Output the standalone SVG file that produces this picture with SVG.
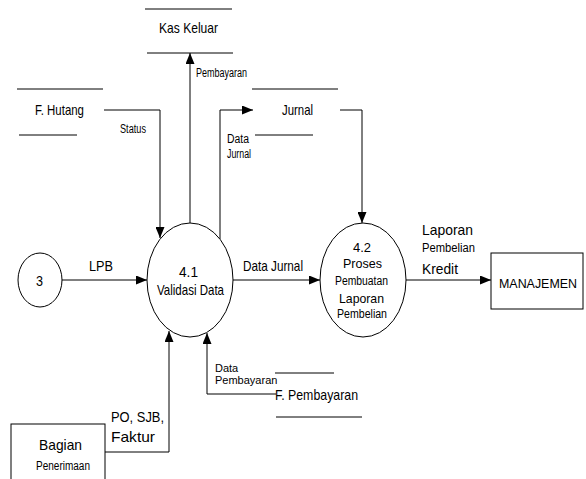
<svg xmlns="http://www.w3.org/2000/svg" width="586" height="479" viewBox="0 0 586 479">
<style>
.bg{fill:#fff}
.sh{fill:#fff;stroke:#000;stroke-width:1}
.st{fill:none;stroke:#000;stroke-width:1}
.cn{fill:none;stroke:#000;stroke-width:1;marker-end:url(#ah)}
text{font-family:"Liberation Sans",Arial,sans-serif;fill:#000}
.b{font-size:15px}
.m{font-size:13px}
.s{font-size:12px}
.r{font-size:11px}
</style>
<defs>
<marker id="ah" markerUnits="userSpaceOnUse" markerWidth="11" markerHeight="9" refX="11" refY="4.5" orient="auto">
<path d="M0,0 L11,4.5 L0,9 z" fill="#000"/>
</marker>
</defs>
<rect class="bg" x="0" y="0" width="586" height="479"/>
<g id="connectors">
<path class="cn" d="M62,280 H147"/>
<path class="cn" d="M104,110 H160 V238"/>
<path class="cn" d="M190,223 V53"/>
<path class="cn" d="M220,239 V110 H253"/>
<path class="cn" d="M340,110 H362 V223"/>
<path class="cn" d="M233,280 H320"/>
<path class="cn" d="M406,280 H491"/>
<path class="cn" d="M105,452 H169 V331"/>
<path class="cn" d="M276,394 H207 V333"/>
<text class="s" x="196" y="77" textLength="51" lengthAdjust="spacingAndGlyphs">Pembayaran</text>
<text class="s" x="120" y="133" textLength="26" lengthAdjust="spacingAndGlyphs">Status</text>
<text class="s" x="227" y="143" textLength="22" lengthAdjust="spacingAndGlyphs">Data</text>
<text class="s" x="227" y="158" textLength="24" lengthAdjust="spacingAndGlyphs">Jurnal</text>
<text class="b" x="89" y="271" textLength="24" lengthAdjust="spacingAndGlyphs">LPB</text>
<text class="b" x="243" y="271" textLength="60" lengthAdjust="spacingAndGlyphs">Data Jurnal</text>
<text class="b" x="422" y="235" textLength="51" lengthAdjust="spacingAndGlyphs">Laporan</text>
<text class="s" x="422" y="252" textLength="53" lengthAdjust="spacingAndGlyphs">Pembelian</text>
<text class="b" x="422" y="274" textLength="36" lengthAdjust="spacingAndGlyphs">Kredit</text>
<text class="b" x="111" y="422" textLength="53" lengthAdjust="spacingAndGlyphs">PO, SJB,</text>
<text class="b" x="111" y="442" textLength="44" lengthAdjust="spacingAndGlyphs">Faktur</text>
<text class="r" x="215" y="372">Data</text>
<text class="r" x="215" y="384">Pembayaran</text>
</g>
<g id="kas-keluar">
<path class="st" d="M145,9 H232 M147,53 H233"/>
<text class="b" x="159" y="33" textLength="59" lengthAdjust="spacingAndGlyphs">Kas Keluar</text>
</g>
<g id="f-hutang">
<path class="st" d="M17,89 H103 M19,135 H77"/>
<text class="b" x="35" y="115" textLength="49" lengthAdjust="spacingAndGlyphs">F. Hutang</text>
</g>
<g id="jurnal">
<path class="st" d="M252,89 H338 M255,135 H313"/>
<text class="b" x="282" y="115" textLength="31" lengthAdjust="spacingAndGlyphs">Jurnal</text>
</g>
<g id="f-pembayaran">
<path class="st" d="M275,373 H334 M276,417 H362"/>
<text class="b" x="275" y="400" textLength="83" lengthAdjust="spacingAndGlyphs">F. Pembayaran</text>
</g>
<g id="p3">
<ellipse class="sh" cx="40" cy="280" rx="22" ry="27"/>
<text class="b" x="36" y="286" textLength="7" lengthAdjust="spacingAndGlyphs">3</text>
</g>
<g id="p41">
<ellipse class="sh" cx="190" cy="280" rx="43" ry="57"/>
<text class="b" x="179" y="277" textLength="19" lengthAdjust="spacingAndGlyphs">4.1</text>
<text class="b" x="157" y="295" textLength="67" lengthAdjust="spacingAndGlyphs">Validasi Data</text>
</g>
<g id="p42">
<ellipse class="sh" cx="363" cy="280" rx="43" ry="57"/>
<text class="m" x="353" y="252" textLength="18" lengthAdjust="spacingAndGlyphs">4.2</text>
<text class="m" x="343" y="268" textLength="39" lengthAdjust="spacingAndGlyphs">Proses</text>
<text class="s" x="335" y="285" textLength="53" lengthAdjust="spacingAndGlyphs">Pembuatan</text>
<text class="m" x="339" y="303" textLength="45" lengthAdjust="spacingAndGlyphs">Laporan</text>
<text class="s" x="337" y="318" textLength="50" lengthAdjust="spacingAndGlyphs">Pembelian</text>
</g>
<g id="manajemen">
<rect class="sh" x="491" y="253" width="92" height="56"/>
<text class="m" x="499" y="288" textLength="78" lengthAdjust="spacingAndGlyphs">MANAJEMEN</text>
</g>
<g id="bagian-penerimaan">
<rect class="sh" x="11" y="424" width="94" height="60"/>
<text class="b" x="39" y="450" textLength="43" lengthAdjust="spacingAndGlyphs">Bagian</text>
<text class="s" x="36" y="470" textLength="54" lengthAdjust="spacingAndGlyphs">Penerimaan</text>
</g>
</svg>
